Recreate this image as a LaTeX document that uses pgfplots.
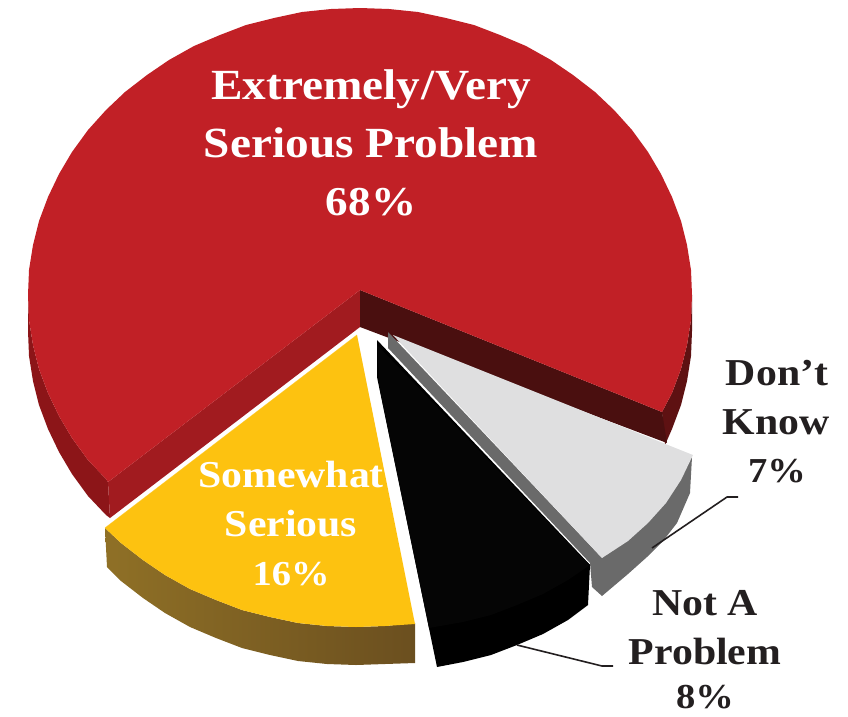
\documentclass[border=0pt]{standalone}
\usepackage{fontspec}
\setmainfont[FakeStretch=1.1]{Liberation Serif}
\usepackage{pgfplots}
\pgfplotsset{compat=1.18}

\definecolor{redtop}{HTML}{C12026}
\definecolor{redside}{HTML}{8C1518}
\definecolor{redwall}{HTML}{A11B1F}
\definecolor{reddark}{HTML}{4A0F0F}
\definecolor{yellowtop}{HTML}{FDC210}
\definecolor{yellowsideA}{HTML}{8F7026}
\definecolor{yellowsideB}{HTML}{6B4F1F}
\definecolor{greytop}{HTML}{DFDFE0}
\definecolor{greyside}{HTML}{6A6A6A}
\definecolor{inktext}{HTML}{231F20}

\newcommand{\bigtxt}{\fontsize{43}{50}\bfseries\selectfont}
\newcommand{\midtxt}{\fontsize{38}{44}\bfseries\selectfont}
\newcommand{\bigpct}{\fontsize{41}{50}\bfseries\selectfont}
\newcommand{\midpct}{\fontsize{35}{44}\bfseries\selectfont}

\begin{document}
\begin{tikzpicture}
\begin{axis}[
    width=848pt, height=716pt, scale only axis,
    xmin=0, xmax=848, ymin=0, ymax=716,
    y dir=reverse,
    hide axis, no markers, clip=false,
    every axis plot/.append style={line join=round},
]
\path (axis cs:0,0) rectangle (axis cs:848,716);

% red: side bands and cut walls first
\addplot[draw=none, fill=redside] coordinates {(28,295) (28,331) (29,356) (33,381) (39,405) (48,429) (59,452) (72,474) (88,496) (106,515) (110,518) (108,482) (106,479) (88,460) (72,438) (59,416) (48,393) (39,369) (33,345) (29,320)};
\addplot[draw=none, fill=reddark!70!redside] coordinates {(692,295) (692,331) (691,356) (687,381) (681,405) (672,429) (665,445) (662,412) (672,393) (681,369) (687,345) (691,320)};
\addplot[draw=none, fill=redwall] coordinates {(360,290) (108,482) (110,518) (360,327)};
\addplot[draw=none, fill=reddark] coordinates {(360,290) (662,412) (667,443) (360,327)};
% red: top
\addplot[draw=none, fill=redtop] coordinates {(360,290) (662,412) (672,393) (681,369) (687,345) (691,320) (692,295) (691,270) (687,245) (681,221) (672,197) (661,174) (648,152) (632,130) (614,110) (595,92) (573,75) (551,60) (526,46) (500,35) (474,25) (446,18) (418,12) (389,9) (360,8) (331,9) (302,12) (274,18) (246,25) (220,35) (194,46) (169,60) (147,75) (125,92) (106,110) (88,130) (72,152) (59,174) (48,197) (39,221) (33,245) (29,270) (28,295) (29,320) (33,345) (39,369) (48,393) (59,416) (72,438) (88,460) (106,479) (108,482)};

% yellow
\addplot[draw=none, left color=yellowsideA, right color=yellowsideB] coordinates {(105,528) (107,567) (121,581) (143,598) (165,613) (190,627) (216,638) (242,648) (270,655) (298,661) (327,664) (356,665) (385,664) (415,663) (415,623) (385,626) (356,627) (327,626) (298,623) (270,617) (242,610) (216,600) (190,589) (165,575) (143,560) (121,543)};
\addplot[draw=yellowtop!60!white, line width=0.8pt, fill=yellowtop] coordinates {(357,335) (105,528)};
\addplot[draw=none, fill=yellowtop] coordinates {(357,335) (105,528) (121,543) (143,560) (165,575) (190,589) (216,600) (242,610) (270,617) (298,623) (327,626) (356,627) (385,626) (415,624)};

% black
\addplot[draw=none, fill=black] coordinates {(377,340) (590,565) (588,605) (568,620) (543,634) (517,645) (491,655) (463,662) (437,667) (377,377)};
\addplot[draw=none, fill=black!98!white] coordinates {(377,345) (590,565) (568,580) (543,594) (517,605) (491,615) (463,622) (429,628) (380,390)};

% light grey
\addplot[draw=none, fill=greyside] coordinates {(388,332) (388,348) (590,563) (592,587) (602,596) (628,574) (647,557) (663,541) (677,523) (690,493) (692,457) (602,558)};
\addplot[draw=none, fill=greytop] coordinates {(393,335) (693,455) (681,480) (666,503) (648,523) (628,541) (602,558)};

% leader lines
\addplot[inktext, line width=1.6pt] coordinates {(652,548) (727,497) (738,497)};
\addplot[inktext, line width=1.6pt] coordinates {(517,645) (602,666) (613,666)};

% labels
\tikzset{every node/.append style={inner sep=0pt, anchor=base}}
\node[white] at (axis cs:371,99) {\bigtxt Extremely\kern1pt/\kern1pt Very};
\node[white] at (axis cs:371,157) {\bigtxt Serious Problem};
\node[white] at (axis cs:371,215) {\bigpct 68\%};
\node[white] at (axis cs:291,487) {\midtxt Somewhat};
\node[white] at (axis cs:291,536) {\midtxt Serious};
\node[white] at (axis cs:291,585) {\midpct 16\%};
\node[inktext] at (axis cs:777,385) {\midtxt Don’t};
\node[inktext] at (axis cs:776,434) {\midtxt Know};
\node[inktext] at (axis cs:777,482) {\midpct 7\%};
\node[inktext] at (axis cs:705,615) {\midtxt Not A};
\node[inktext] at (axis cs:705,664) {\midtxt Problem};
\node[inktext] at (axis cs:705,708) {\midpct 8\%};
\end{axis}
\end{tikzpicture}
\end{document}
